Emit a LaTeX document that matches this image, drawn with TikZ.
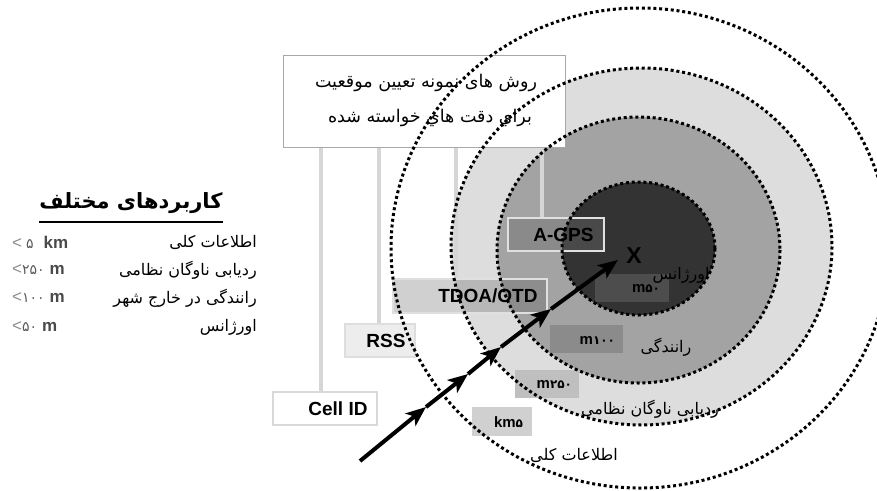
\documentclass[tikz,border=0pt]{standalone}
\usepackage{fontspec}
\setmainfont{Liberation Sans}
\newfontfamily\fa[Script=Arabic]{DejaVu Sans}
\TeXXeTstate=1
\usetikzlibrary{arrows.meta,calc}
\definecolor{ringB}{HTML}{DDDDDD}
\definecolor{ringC}{HTML}{A3A3A3}
\definecolor{ringD}{HTML}{333333}
\definecolor{lineG}{HTML}{D6D6D6}
\definecolor{topG}{HTML}{A8A8A8}
\definecolor{boxA}{HTML}{4D4D4D}
\definecolor{boxB}{HTML}{8B8B8B}
\definecolor{boxC}{HTML}{BFBFBF}
\definecolor{boxD}{HTML}{D0D0D0}
\definecolor{unitG}{HTML}{4A4A4A}
\definecolor{ltG}{HTML}{8A8A8A}
\definecolor{digG}{HTML}{5A5A5A}
\begin{document}
\begin{tikzpicture}[x=1pt,y=-1pt,
  ring/.style={line width=3pt, dash pattern=on 3pt off 2.8pt},
  conn/.style={draw=lineG, line width=4pt},
  toolbox/.style={rectangle, line width=1.5pt, minimum height=33pt, inner sep=0pt},
  lat/.style={font=\fontsize{19}{22}\selectfont\bfseries, inner sep=0pt, anchor=east},
  fatxt/.style={font=\fa\fontsize{16}{19}\selectfont, inner sep=0pt},
  tagbox/.style={rectangle, draw=none, inner sep=0pt},
  tagtxt/.style={font=\fontsize{15}{18}\selectfont, inner sep=0pt, anchor=east},
  legv/.style={font=\fontsize{17}{20}\selectfont, inner sep=0pt, anchor=west},
  arr/.style={line width=4pt, -{Stealth[length=20pt,width=16pt,inset=5pt]}}
]
\useasboundingbox (0,0) rectangle (877,490);

% circle fills
\fill[white] (640,248) ellipse [x radius=249, y radius=240];
\fill[ringB] (641.5,246.5) ellipse [x radius=190.5, y radius=178.5];
\fill[ringC] (638.5,250) ellipse [x radius=141.5, y radius=133];
\fill[ringD] (638.5,248.5) ellipse [x radius=76.5, y radius=66.5];

% top box
\node[rectangle, draw=topG, fill=white, line width=1pt, minimum width=282pt, minimum height=92pt, inner sep=0pt] (top) at (424,101) {};

% tool boxes
\node[toolbox, draw=white!85!black, fill=white, minimum width=104pt] (cell) at (325,408.5) {};
\node[toolbox, draw=white!87!black, fill=white!93!black, minimum width=70pt] (rss) at (380,340.5) {};
\node[toolbox, draw=white!88!black, fill=black!66, fill opacity=0.28, minimum width=154pt, minimum height=34pt] (tdoa) at (470,296) {};
\node[toolbox, draw=white!88!black, fill=black!59, fill opacity=0.42, minimum width=96pt] (agps) at (556,234.5) {};

% connectors from the top box
\coordinate (cellT) at ($(cell.north)+(-4,0)$);
\coordinate (rssT) at ($(rss.north)+(-1,0)$);
\coordinate (tdoaT) at ($(tdoa.north)+(-14,0)$);
\coordinate (agpsT) at ($(agps.north)+(-14,0)$);
\draw[conn] (cellT |- top.south) -- (cellT);
\draw[conn] (rssT |- top.south) -- (rssT);
\draw[conn] (tdoaT |- top.south) -- (tdoaT);
\draw[conn] (agpsT |- top.south) -- (agpsT);

% tool labels
\node[lat] (cellL) at ($(cell.east)+(-10,0)$) {Cell ID};
\node[lat] (rssL) at ($(rss.east)+(-10,0)$) {RSS};
\node[lat] (tdoaL) at ($(tdoa.east)+(-10,0)$) {TDOA/OTD};
\node[lat] (agpsL) at ($(agps.east)+(-11,0)$) {A-GPS};

% accuracy tags
\node[tagbox, fill=boxA, minimum width=74pt, minimum height=28pt] (t50) at (632,288) {};
\node[tagbox, fill=boxB, minimum width=73pt, minimum height=28pt] (t100) at (586.5,339) {};
\node[tagbox, fill=boxC, minimum width=64pt, minimum height=28pt] (t250) at (547,384) {};
\node[tagbox, fill=boxD, minimum width=60pt, minimum height=29pt] (t5) at (502,421.5) {};
\node[tagtxt] (t50L) at ($(t50.east)+(-9,1)$) {\bfseries m{\fa\fontsize{12}{14}\selectfont ۵۰}};
\node[tagtxt] (t100L) at ($(t100.east)+(-8,1)$) {\bfseries m{\fa\fontsize{12}{14}\selectfont ۱۰۰}};
\node[tagtxt] (t250L) at ($(t250.east)+(-7,1)$) {\bfseries m{\fa\fontsize{12}{14}\selectfont ۲۵۰}};
\node[tagtxt] (t5L) at ($(t5.east)+(-9,1)$) {\bfseries km{\fa\fontsize{12}{14}\selectfont ۵}};

% top box text
\node[fatxt, font=\fa\fontsize{17.5}{21}\selectfont] (q1) at (426,83) {\beginR روش های نمونه تعیین موقعیت\endR};
\node[fatxt, font=\fa\fontsize{17.5}{21}\selectfont] (q2) at (430,118) {\beginR براي دقت هاي خواسته شده\endR};

% circle labels
\node[fatxt] (c1) at (681,275) {\beginR اورژانس\endR};
\node[fatxt] (c2) at (666,347) {\beginR رانندگی\endR};
\node[fatxt] (c3) at (650,409) {\beginR ردیابی ناوگان نظامی\endR};
\node[fatxt] (c4) at (574,455) {\beginR اطلاعات کلی\endR};

% legend
\node[inner sep=0pt, font=\fa\bfseries\fontsize{21}{25}\selectfont] (hdr) at (131,203) {\beginR کاربردهای مختلف\endR};
\draw[line width=1.5pt] (hdr.west |- 0,222) -- (hdr.east |- 0,222);
\node[fatxt, anchor=east] (r1) at (257,242) {\beginR اطلاعات کلی\endR};
\node[fatxt, anchor=east] (r2) at (257,270) {\beginR ردیابی ناوگان نظامی\endR};
\node[fatxt, anchor=east] (r3) at (257,298) {\beginR رانندگی در خارج شهر\endR};
\node[fatxt, anchor=east] (r4) at (257,327) {\beginR اورژانس\endR};
\node[legv] (v1) at (12,242) {\textcolor{ltG}{<}\hspace{4pt}{\fa\fontsize{14}{16}\selectfont\color{digG}۵}\hspace{10pt}\textcolor{unitG}{\bfseries km}};
\node[legv] (v2) at (12,270) {\textcolor{ltG}{<}{\fa\fontsize{14}{16}\selectfont\color{digG}۲۵۰}\hspace{5pt}\textcolor{unitG}{\bfseries m}};
\node[legv] (v3) at (12,298) {\textcolor{ltG}{<}{\fa\fontsize{14}{16}\selectfont\color{digG}۱۰۰}\hspace{5pt}\textcolor{unitG}{\bfseries m}};
\node[legv] (v4) at (12,327) {\textcolor{ltG}{<}{\fa\fontsize{14}{16}\selectfont\color{digG}۵۰}\hspace{5pt}\textcolor{unitG}{\bfseries m}};

% dotted ring outlines
\draw[ring] (640,248) ellipse [x radius=249, y radius=240];
\draw[ring] (641.5,246.5) ellipse [x radius=190.5, y radius=178.5];
\draw[ring] (638.5,250) ellipse [x radius=141.5, y radius=133];
\draw[ring] (638.5,248.5) ellipse [x radius=76.5, y radius=66.5];

% target
\node[inner sep=0pt, font=\fontsize{23}{26}\selectfont\bfseries] (X) at (634,256) {X};

% movement path
\coordinate (p0) at (360,461);
\coordinate (p1) at (426,407);
\coordinate (p2) at (468,374);
\coordinate (p3) at (501,347);
\coordinate (p4) at (551,309);
\coordinate (p5) at (618,260);
\draw[arr] (p0) -- (p1);
\draw[arr] (p1) -- (p2);
\draw[arr] (p2) -- (p3);
\draw[arr] (p3) -- (p4);
\draw[arr] (p4) -- (p5);
\end{tikzpicture}
\end{document}
